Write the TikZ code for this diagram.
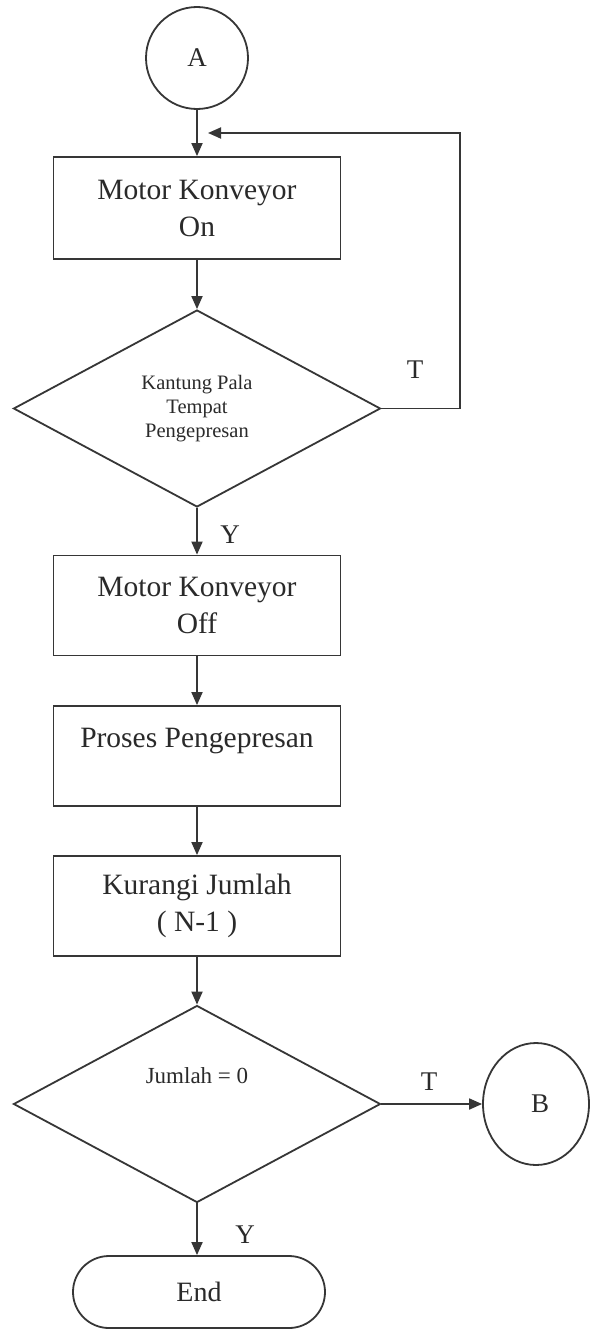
\documentclass[tikz,border=0pt]{standalone}
\usepackage{fontspec}
\setmainfont{Liberation Serif}
\usetikzlibrary{shapes.geometric,arrows.meta}
\definecolor{ink}{HTML}{363636}
\definecolor{txt}{HTML}{2A2A2A}
\begin{document}
\begin{tikzpicture}[x=1pt,y=-1pt,
  line/.style={draw=ink,line width=1.8pt},
  arr/.style={line,-{Triangle[length=13pt,width=11pt]}},
  procbox/.style={line,rectangle,minimum width=287pt,minimum height=100pt,
    inner sep=0pt,align=center,text=txt,font=\fontsize{29.5}{37}\selectfont},
  decision/.style={line,diamond,minimum width=367pt,minimum height=197pt,
    inner sep=0pt,align=center,text=txt},
  connector/.style={line,ellipse,inner sep=0pt,text=txt,font=\fontsize{27}{30}\selectfont},
  terminal/.style={line,rectangle,rounded corners=36pt,minimum width=252pt,
    minimum height=72pt,inner sep=0pt,text=txt,font=\fontsize{28}{30}\selectfont},
  branch/.style={text=txt,inner sep=0pt,font=\fontsize{27}{30}\selectfont}]
\useasboundingbox (0,0) rectangle (592,1330);
\fill[white] (0,0) rectangle (592,1330);

% shapes of the flow
\node[connector,minimum width=102pt,minimum height=102pt] (A) at (197,58) {A};
\node[procbox,minimum height=102pt] (b1) at (197,208) {Motor Konveyor\\On};
\node[decision,font=\fontsize{20.5}{24}\selectfont] (d1) at (197,408.5)
  {Kantung Pala\\Tempat\\Pengepresan};
\node[procbox] (b2) at (197,605.5) {Motor Konveyor\\Off};
\node[procbox] (b3) at (197,756) {Proses Pengepresan\\\phantom{X}};
\node[procbox] (b4) at (197,906) {Kurangi Jumlah\\( N-1 )};
\node[decision] (d2) at (197,1104) {};
\node[text=txt,inner sep=0pt,font=\fontsize{23}{24}\selectfont] (d2t) at (197,1076) {Jumlah = 0};
\node[connector,minimum width=106pt,minimum height=122pt] (B) at (536,1104) {\hspace*{8pt}B};
\node[terminal] (end) at (199,1292) {End};

% loop back corner and arrow end
\coordinate (loopx) at (460,0);
\coordinate (loopend) at (208,133);

% connectors
\draw[arr] (A.south) -- (b1.north);
\draw[arr] (b1.south) -- (d1.north);
\draw[arr] (d1.east) -- (d1.east -| loopx) |- (loopend);
\draw[arr] (d1.south) -- (b2.north);
\draw[arr] (b2.south) -- (b3.north);
\draw[arr] (b3.south) -- (b4.north);
\draw[arr] (b4.south) -- (d2.north);
\draw[arr] (d2.east) -- (B.west);
\draw[arr] (d2.south) -- (d2.south |- end.north);

% branch labels
\node[branch] (t1) at (415,370) {T};
\node[branch] (y1) at (230,535) {Y};
\node[branch] (t2) at (429,1082) {T};
\node[branch] (y2) at (245,1235) {Y};
\end{tikzpicture}
\end{document}
